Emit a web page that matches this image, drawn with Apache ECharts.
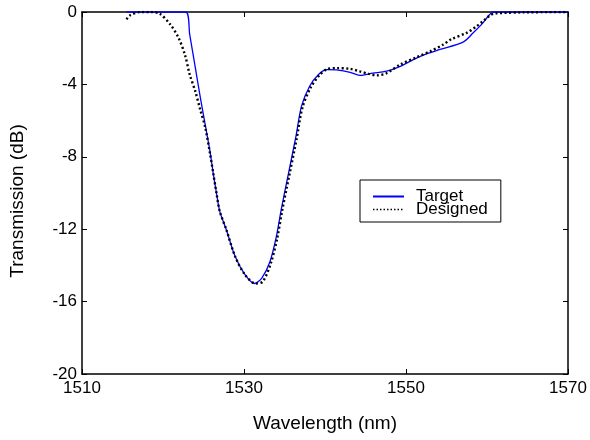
<!DOCTYPE html>
<html>
<head>
<meta charset="utf-8">
<script src="https://cdn.jsdelivr.net/npm/echarts@6/dist/echarts.min.js"></script>
<style>html,body{margin:0;padding:0;background:#fff}#c{width:590px;height:440px}</style>
</head>
<body>
<div id="c"></div>
<script>
var xTicks = [1510, 1530, 1550, 1570];
var yTicks = [-20, -16, -12, -8, -4, 0];
var seriesNames = ['Target', 'Designed'];

var targetWl = [1515.5, 1522.8, 1523.3, 1524.0, 1524.6, 1525.2, 1525.8, 1526.2, 1526.6, 1527.0, 1527.8, 1528.9, 1530.1, 1531.3, 1532.2, 1533.2, 1534.0, 1534.6, 1535.5, 1536.4, 1537.1, 1538.1, 1539.2, 1540.2, 1541.4, 1543.1, 1544.3, 1545.9, 1547.6, 1549.3, 1550.9, 1552.6, 1554.2, 1557.1, 1558.3, 1559.5, 1560.3, 1560.8, 1570];
var targetDb = [0, 0, -1.25, -3.1, -4.7, -6.2, -7.7, -8.9, -10.0, -11.0, -12.0, -13.5, -14.5, -15.0, -14.7, -13.8, -12.4, -10.9, -8.9, -6.9, -5.2, -4.1, -3.45, -3.18, -3.2, -3.33, -3.5, -3.38, -3.27, -3.0, -2.63, -2.3, -2.07, -1.65, -1.15, -0.6, -0.15, 0, 0];

var designedWl = [1515.5, 1515.9, 1517.2, 1518.4, 1519.6, 1520.9, 1521.9, 1522.7, 1523.3, 1524.0, 1524.6, 1525.2, 1525.8, 1526.2, 1526.6, 1527.0, 1527.8, 1528.9, 1530.1, 1531.4, 1532.3, 1533.3, 1534.1, 1534.7, 1535.6, 1536.5, 1537.2, 1538.2, 1539.3, 1540.3, 1541.4, 1543.1, 1544.3, 1545.4, 1546.4, 1547.6, 1549.3, 1551.3, 1553.0, 1554.6, 1555.6, 1557.5, 1558.7, 1559.5, 1560.4, 1561.0, 1564.5, 1570];
var designedDb = [-0.41, -0.19, 0, 0, -0.1, -0.69, -1.41, -2.35, -3.46, -4.4, -5.4, -6.35, -7.8, -8.9, -10.0, -11.0, -12.0, -13.5, -14.5, -15.0, -14.9, -13.9, -12.5, -11.0, -9.0, -7.0, -5.3, -4.2, -3.5, -3.15, -3.1, -3.14, -3.28, -3.42, -3.5, -3.38, -2.9, -2.5, -2.17, -1.8, -1.5, -1.15, -0.79, -0.51, -0.18, -0.08, -0.02, 0];

function pairs(xs, ys) { return xs.map(function (x, i) { return [x, ys[i]]; }); }

var FONT = 'Liberation Sans, Arial, sans-serif';
var chart = echarts.init(document.getElementById('c'), null, {renderer: 'canvas'});

var axisLine = {show: true, onZero: false, lineStyle: {color: '#000', width: 1.5}};
var axisTick = {show: true, inside: true, length: 5, lineStyle: {color: '#000', width: 1}};

chart.setOption({
  animation: false,
  backgroundColor: '#fff',
  grid: {left: 82, right: 22, top: 12, bottom: 66, containLabel: false},
  legend: {
    data: [
      {name: seriesNames[0]},
      {name: seriesNames[1], lineStyle: {width: 1.6, type: [1.5, 2]}}
    ],
    orient: 'vertical',
    left: 360, top: 180,
    backgroundColor: '#fff',
    borderColor: '#000', borderWidth: 1, borderRadius: 0,
    padding: [8, 13, 4, 12],
    itemGap: -4,
    itemWidth: 31, itemHeight: 14,
    itemStyle: {opacity: 0},
    textStyle: {fontFamily: FONT, fontSize: 17, color: '#000', padding: [0, 0, 0, 7]}
  },
  xAxis: [{
    type: 'value', min: xTicks[0], max: xTicks[xTicks.length - 1], interval: 20,
    position: 'bottom',
    name: 'Wavelength (nm)', nameLocation: 'middle', nameGap: 40,
    nameTextStyle: {fontFamily: FONT, fontSize: 19, color: '#000'},
    axisLine: axisLine, axisTick: axisTick,
    axisLabel: {fontFamily: FONT, fontSize: 17, color: '#000', margin: 6,
      formatter: function (v) { return String(v); }},
    splitLine: {show: false}
  }, {
    type: 'value', min: xTicks[0], max: xTicks[xTicks.length - 1], interval: 20,
    position: 'top',
    axisLine: axisLine, axisTick: axisTick,
    axisLabel: {show: false}, splitLine: {show: false}
  }],
  yAxis: [{
    type: 'value', min: yTicks[0], max: yTicks[yTicks.length - 1], interval: 4,
    position: 'left',
    name: 'Transmission (dB)', nameLocation: 'middle', nameGap: 55,
    nameTextStyle: {fontFamily: FONT, fontSize: 19, color: '#000', padding: [0, 16, 0, 0]},
    axisLine: axisLine, axisTick: axisTick,
    axisLabel: {fontFamily: FONT, fontSize: 17, color: '#000', margin: 5},
    splitLine: {show: false}
  }, {
    type: 'value', min: yTicks[0], max: yTicks[yTicks.length - 1], interval: 4,
    position: 'right',
    axisLine: axisLine, axisTick: axisTick,
    axisLabel: {show: false}, splitLine: {show: false}
  }],
  series: [{
    name: seriesNames[0], type: 'line', xAxisIndex: 0, yAxisIndex: 0,
    data: pairs(targetWl, targetDb),
    showSymbol: false, symbol: 'none', smooth: 0.3,
    lineStyle: {color: '#0000ff', width: 1.3, type: 'solid'},
    itemStyle: {color: '#0000ff'}
  }, {
    name: seriesNames[1], type: 'line', xAxisIndex: 0, yAxisIndex: 0,
    data: pairs(designedWl, designedDb),
    showSymbol: false, symbol: 'none', smooth: 0.3,
    lineStyle: {color: '#000', width: 2.4, type: [2, 2.5]},
    itemStyle: {color: '#000'}
  }]
});
</script>
</body>
</html>
